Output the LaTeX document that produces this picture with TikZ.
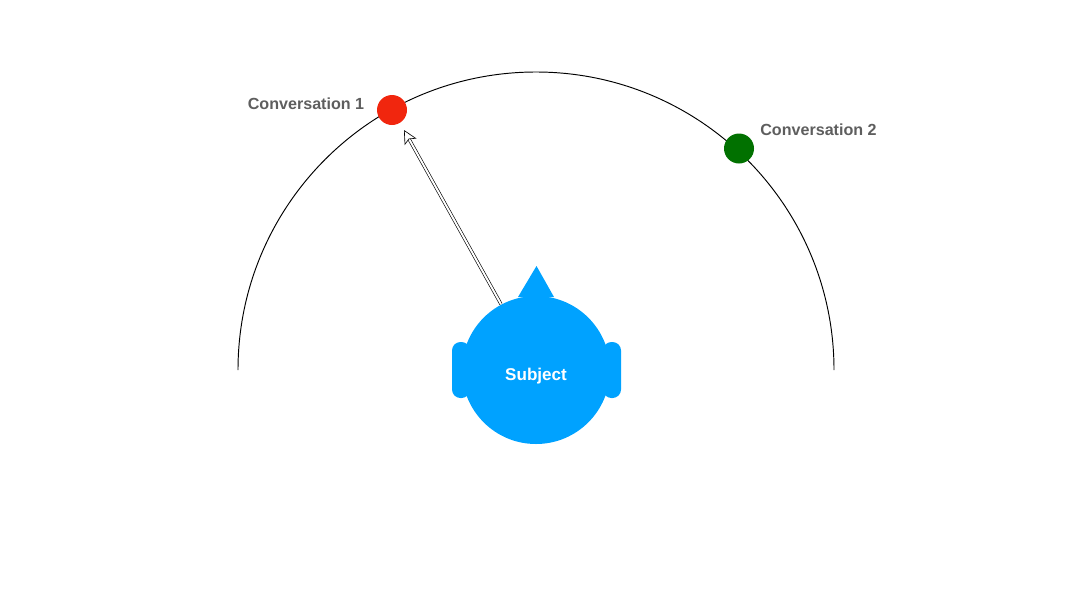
\documentclass[tikz,border=0pt]{standalone}
\usepackage{fontspec}
\setmainfont{Liberation Sans}
\usetikzlibrary{arrows.meta}
\definecolor{headblue}{HTML}{00A2FF}
\definecolor{convred}{HTML}{F1260E}
\definecolor{convgreen}{HTML}{017100}
\definecolor{labelgray}{HTML}{5E5E5E}
\tikzset{
  dot/.style={circle, minimum size=0.30cm, inner sep=0pt},
  convlabel/.style={color=labelgray, inner sep=0pt, font=\fontsize{4.58}{5.5}\selectfont\bfseries},
  ear/.style={fill=headblue, rounded corners=0.085cm, minimum width=0.18cm, minimum height=0.56cm, inner sep=0pt},
  gazeline/.style={line width=0.18pt, double=white, double distance=0.55pt, -{Stealth[length=1.35mm, width=1.35mm, inset=0.3mm, fill=white, line width=0.18pt]}}
}
\begin{document}
\begin{tikzpicture}
               \useasboundingbox (0,0) rectangle (10.8,6.08);
               \node[circle, fill=headblue, minimum size=1.48cm, inner sep=0pt] (head) at (5.36,2.38) {};
               \draw[line width=0.27pt] (head.center) ++(180:2.98) arc (180:0:2.98);
               \node[dot, fill=convred] (conv1) at (3.92,4.98) {};
               \node[dot, fill=convgreen] (conv2) at (7.39,4.595) {};
               \node[convlabel] (label1) at (3.06,5.045) {Conversation 1};
               \node[convlabel] (label2) at (8.185,4.785) {Conversation 2};
               \coordinate (gaze) at (4.04,4.78);
               \draw[gazeline] (head.118) -- (gaze);
               \node[ear] (earL) at (4.61,2.38) {};
               \node[ear] (earR) at (6.12,2.38) {};
               \fill[headblue] (5.18,3.11) -- (5.365,3.42) -- (5.54,3.11) -- cycle;
               \node[text=white, inner sep=0pt, font=\fontsize{4.85}{5.5}\selectfont\bfseries] (subject) at (5.36,2.32) {Subject};
           \end{tikzpicture}
\end{document}
